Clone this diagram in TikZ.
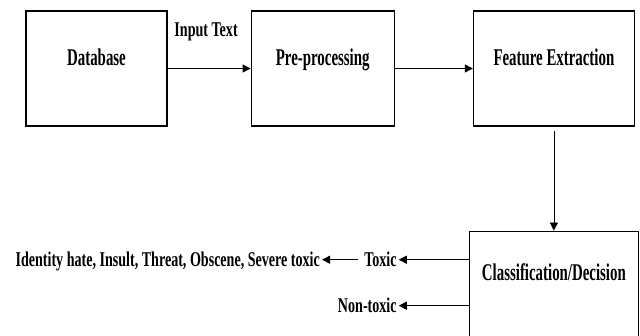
\documentclass[tikz,border=0pt]{standalone}
\usepackage{fontspec}
\setmainfont{Liberation Serif}
\newfontfamily\stagefont[FakeStretch=0.62]{Liberation Serif}
\newfontfamily\tagfont[FakeStretch=0.67]{Liberation Serif}
\usetikzlibrary{arrows.meta, positioning}

\begin{document}
\begin{tikzpicture}[x=1pt, y=1pt,
      stage/.style={draw, line width=1.2pt, minimum height=115pt, inner sep=0pt,
                    text height=16pt, text depth=21pt,
                    font=\stagefont\bfseries\fontsize{24}{28}\selectfont},
      tag/.style={inner sep=2pt, text height=14pt, text depth=0pt,
                  font=\tagfont\bfseries\fontsize{21}{24}\selectfont},
      arr/.style={-{Triangle[length=8pt, width=8pt]}, line width=1.2pt}]
    \clip (0,0) rectangle (640,335);
    \node[stage, minimum width=141pt] (db) at (96.5,266.5) {Database};
    \node[stage, minimum width=143pt, right=83pt of db] (pre) {Pre-processing};
    \node[stage, minimum width=161pt, right=78pt of pre] (feat) {Feature Extraction};
    \node[stage, minimum width=169pt, minimum height=109pt, text depth=27pt,
          below=104pt of feat] (cls) {Classification/Decision};
    % outputs of the classifier
    \node[tag, anchor=east] (toxic) at ([xshift=-70pt, yshift=26pt]cls.west) {Toxic};
    \node[tag, anchor=east] (nontoxic) at ([xshift=-70pt, yshift=-20pt]cls.west) {Non-toxic};
    \node[tag, left=40pt of toxic] (types) {Identity hate, Insult, Threat, Obscene, Severe toxic};
    \draw[arr] (db) -- node[tag, above=29pt, xshift=-3pt] (input) {Input Text} (pre);
    \draw[arr] (pre) -- (feat);
    \draw[arr, line width=0.7pt, shorten <=4pt] (feat) -- (cls);
    \draw[arr] (toxic -| cls.west) -- (toxic);
    \draw[arr] (nontoxic -| cls.west) -- (nontoxic);
    \draw[arr, shorten <=4pt] (toxic) -- (types);
  \end{tikzpicture}
\end{document}
